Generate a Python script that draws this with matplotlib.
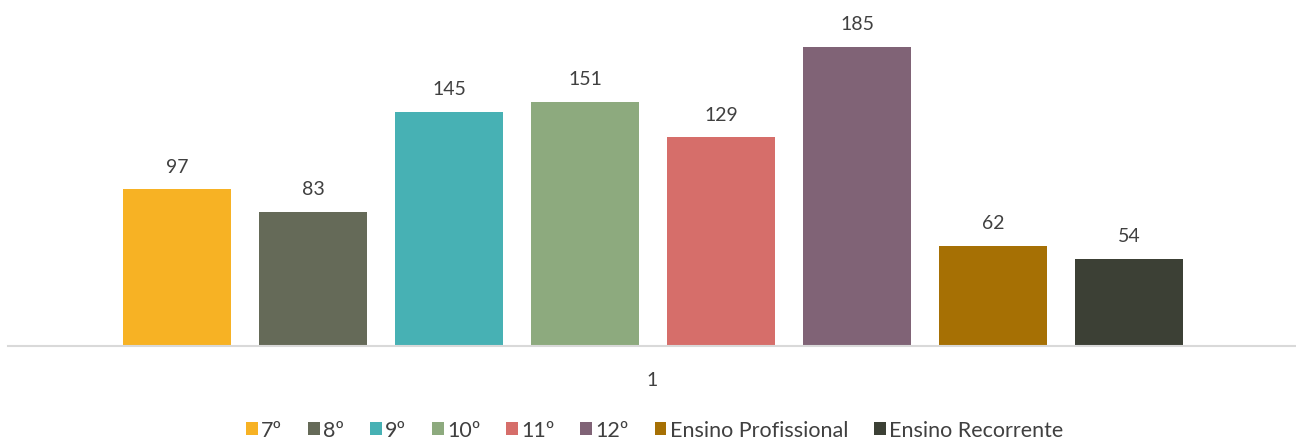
import numpy as np
import matplotlib.pyplot as plt

plt.rcParams['font.family'] = ['Lato', 'DejaVu Sans']

# series names and counts, single category "1"
series = ["7º", "8º", "9º", "10º", "11º", "12º", "Ensino Profissional", "Ensino Recorrente"]
values = [97, 83, 145, 151, 129, 185, 62, 54]
colors = ["#F7B224", "#656A58", "#47B1B4", "#8DAA7E", "#D66E6A", "#806376", "#A67004", "#3C4035"]
category = ["1"]

fig = plt.figure(figsize=(12.96, 4.39), dpi=100)
ax = fig.add_axes([8 / 1296, 92 / 439, 1288 / 1296, 325 / 439])

step = 0.1056
width = 0.084
for i, (name, v, c) in enumerate(zip(series, values, colors)):
    x = 1.0008 + (i - 3.5) * step
    ax.bar(x, v, width=width, color=c, label=name)
    ax.text(x, v + 9, str(v), ha='center', va='bottom', fontsize=14, color='#404040')

ax.set_xlim(0.5, 1.5)
ax.set_ylim(0, 201)
ax.set_xticks([1])
ax.set_xticklabels(category, fontsize=14, color='#404040')
ax.tick_params(axis='x', length=0, pad=18)
ax.set_yticks([])
for s in ['top', 'right', 'left']:
    ax.spines[s].set_visible(False)
ax.spines['bottom'].set_color('#D9D9D9')
ax.spines['bottom'].set_linewidth(1.5)

fig.legend(loc='center', bbox_to_anchor=(0.505, 0.019), ncol=8, frameon=False,
           fontsize=15.5, labelcolor='#404040', handlelength=0.55, handleheight=0.55,
           handletextpad=0.15, columnspacing=1.2, borderaxespad=0, borderpad=0)

fig.savefig('out.png', dpi=100)
